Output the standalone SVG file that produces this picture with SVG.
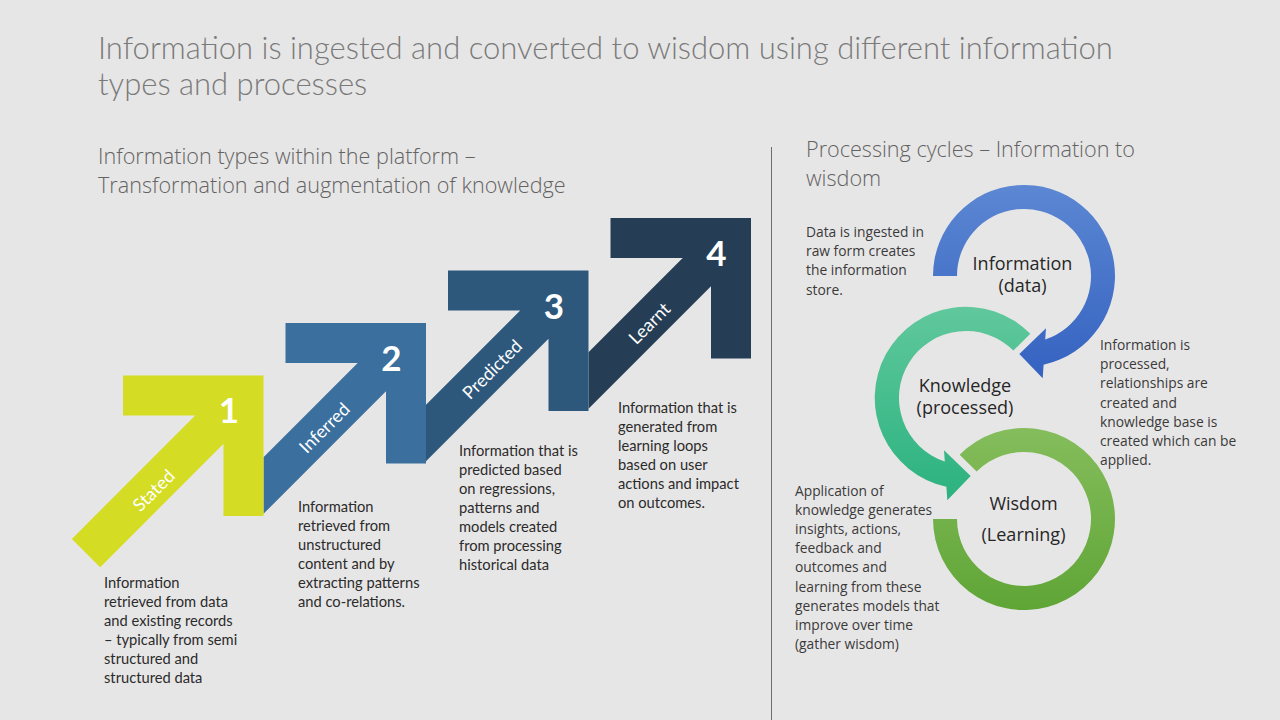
<svg xmlns="http://www.w3.org/2000/svg" width="1280" height="720" viewBox="0 0 1280 720">
<defs>
<style>
.title{font-family:Lato,"Liberation Sans",sans-serif;font-weight:300;font-size:31px;fill:#7a7a7a}
.sub{font-family:"Open Sans","Liberation Sans",sans-serif;font-weight:300;font-size:21.6px;fill:#636363}
.body{font-family:Lato,"Liberation Sans",sans-serif;font-size:14.7px;fill:#2b2b2b}
.rbody{font-family:"Open Sans","Liberation Sans",sans-serif;font-size:13.8px;fill:#3a3a3a}
.num{font-family:Lato,"Liberation Sans",sans-serif;font-weight:700;font-size:35px;fill:#ffffff;text-anchor:middle}
.lbl{font-family:Lato,"Liberation Sans",sans-serif;font-size:18px;fill:#ffffff;text-anchor:middle;dominant-baseline:central}
.clbl{font-family:"Open Sans","Liberation Sans",sans-serif;font-size:18px;fill:#262626;text-anchor:middle}
</style>
<linearGradient id="gBlue" x1="0" y1="0" x2="0" y2="1"><stop offset="0" stop-color="#5c87d3"/><stop offset="1" stop-color="#3462c0"/></linearGradient>
<linearGradient id="gTeal" x1="0" y1="0" x2="0" y2="1"><stop offset="0" stop-color="#60c89c"/><stop offset="1" stop-color="#2bb27f"/></linearGradient>
<linearGradient id="gGreen" x1="0" y1="0" x2="0" y2="1"><stop offset="0" stop-color="#85bd5c"/><stop offset="1" stop-color="#5fa536"/></linearGradient>
</defs>
<rect x="0" y="0" width="1280" height="720" fill="#e7e6e6"/>

<g id="title">
<text class="title" x="98" y="59">Information is ingested and converted to wisdom using different information</text>
<text class="title" x="98" y="95">types and processes</text>
</g>
<g id="subtitle-left">
<text class="sub" x="98" y="164">Information types within the platform –</text>
<text class="sub" x="98" y="193">Transformation and augmentation of knowledge</text>
</g>
<g id="subtitle-right">
<text class="sub" x="806" y="157">Processing cycles – Information to</text>
<text class="sub" x="806" y="186">wisdom</text>
</g>
<line id="divider" x1="771.5" y1="147" x2="771.5" y2="720" stroke="#6d6d6d" stroke-width="1"/>

<g id="step4">
<polygon fill="#253e55" points="610.5,218 751,218 751,358.5 711,358.5 711,286.3 588.5,408.8 588.5,352.2 682.7,258 610.5,258"/>
<text class="num" x="716.5" y="266">4</text>
<text class="lbl" transform="translate(649,323) rotate(-45)">Learnt</text>
</g>
<g id="step3">
<polygon fill="#2d587c" points="448,270.5 588.5,270.5 588.5,411 548.5,411 548.5,338.8 426,461.3 426,404.7 520.2,310.5 448,310.5"/>
<text class="num" x="554" y="318.5">3</text>
<text class="lbl" transform="translate(491.7,369) rotate(-45)">Predicted</text>
</g>
<g id="step2">
<polygon fill="#3b6f9e" points="285.5,323 426,323 426,463.5 386,463.5 386,391.3 263.5,513.8 263.5,457.2 357.7,363 285.5,363"/>
<text class="num" x="391.5" y="370.5">2</text>
<text class="lbl" transform="translate(324,427.5) rotate(-45)">Inferred</text>
</g>
<g id="step1">
<polygon fill="#d4dc23" points="123,375.5 263.5,375.5 263.5,516 223.5,516 223.5,443.8 100.2,567.2 71.9,538.9 195.2,415.5 123,415.5"/>
<text class="num" x="229" y="423">1</text>
<text class="lbl" transform="translate(153.3,490) rotate(-45)">Stated</text>
</g>

<g id="desc1" class="body">
<text x="104" y="588">Information</text>
<text x="104" y="607">retrieved from data</text>
<text x="104" y="626">and existing records</text>
<text x="104" y="645">– typically from semi</text>
<text x="104" y="664">structured and</text>
<text x="104" y="683">structured data</text>
</g>
<g id="desc2" class="body">
<text x="298" y="512">Information</text>
<text x="298" y="531">retrieved from</text>
<text x="298" y="550">unstructured</text>
<text x="298" y="569">content and by</text>
<text x="298" y="588">extracting patterns</text>
<text x="298" y="607">and co-relations.</text>
</g>
<g id="desc3" class="body">
<text x="459" y="456">Information  that is</text>
<text x="459" y="475">predicted based</text>
<text x="459" y="494">on regressions,</text>
<text x="459" y="513">patterns and</text>
<text x="459" y="532">models created</text>
<text x="459" y="551">from processing</text>
<text x="459" y="570">historical data</text>
</g>
<g id="desc4" class="body">
<text x="618" y="413">Information that is</text>
<text x="618" y="432">generated from</text>
<text x="618" y="451">learning loops</text>
<text x="618" y="470">based on user</text>
<text x="618" y="489">actions and impact</text>
<text x="618" y="508">on outcomes.</text>
</g>

<g id="cycle-arrows">
<path id="ring-wisdom" fill="url(#gGreen)" d="M959.65,454.65 A91,91 0 1 1 933,519 L957,519 A67,67 0 1 0 976.6,471.6 Z"/>
<path id="ring-knowledge" fill="url(#gTeal)" d="M1030.3,333.7 A91,91 0 1 0 946.4,486.75 L947.3,500.3 L970.7,476 L944,450.3 L944.8,461.5 A67,67 0 1 1 1013.4,350.6 Z"/>
<path id="ring-information" fill="url(#gBlue)" d="M933,276 A91,91 0 1 1 1043.6,364.75 L1042.7,378.3 L1019.3,354 L1046,328.3 L1045.2,339.5 A67,67 0 1 0 957,276 Z"/>
</g>

<g id="node-information">
<text class="clbl" x="1022.5" y="270">Information</text>
<text class="clbl" x="1022.5" y="292">(data)</text>
</g>
<g id="node-knowledge">
<text class="clbl" x="965" y="392">Knowledge</text>
<text class="clbl" x="965" y="414">(processed)</text>
</g>
<g id="node-wisdom">
<text class="clbl" x="1023.5" y="510">Wisdom</text>
<text class="clbl" x="1023.5" y="541">(Learning)</text>
</g>

<g id="note-information" class="rbody">
<text x="806" y="237">Data is ingested in</text>
<text x="806" y="256">raw form creates</text>
<text x="806" y="275">the information</text>
<text x="806" y="295">store.</text>
</g>
<g id="note-knowledge" class="rbody">
<text x="1100" y="350">Information is</text>
<text x="1100" y="369">processed,</text>
<text x="1100" y="388">relationships are</text>
<text x="1100" y="408">created and</text>
<text x="1100" y="427">knowledge base is</text>
<text x="1100" y="446">created which can be</text>
<text x="1100" y="465">applied.</text>
</g>
<g id="note-wisdom" class="rbody">
<text x="795" y="496">Application of</text>
<text x="795" y="515">knowledge generates</text>
<text x="795" y="534">insights, actions,</text>
<text x="795" y="553">feedback and</text>
<text x="795" y="572">outcomes and</text>
<text x="795" y="592">learning from these</text>
<text x="795" y="611">generates models that</text>
<text x="795" y="630">improve over time</text>
<text x="795" y="649">(gather wisdom)</text>
</g>
</svg>
